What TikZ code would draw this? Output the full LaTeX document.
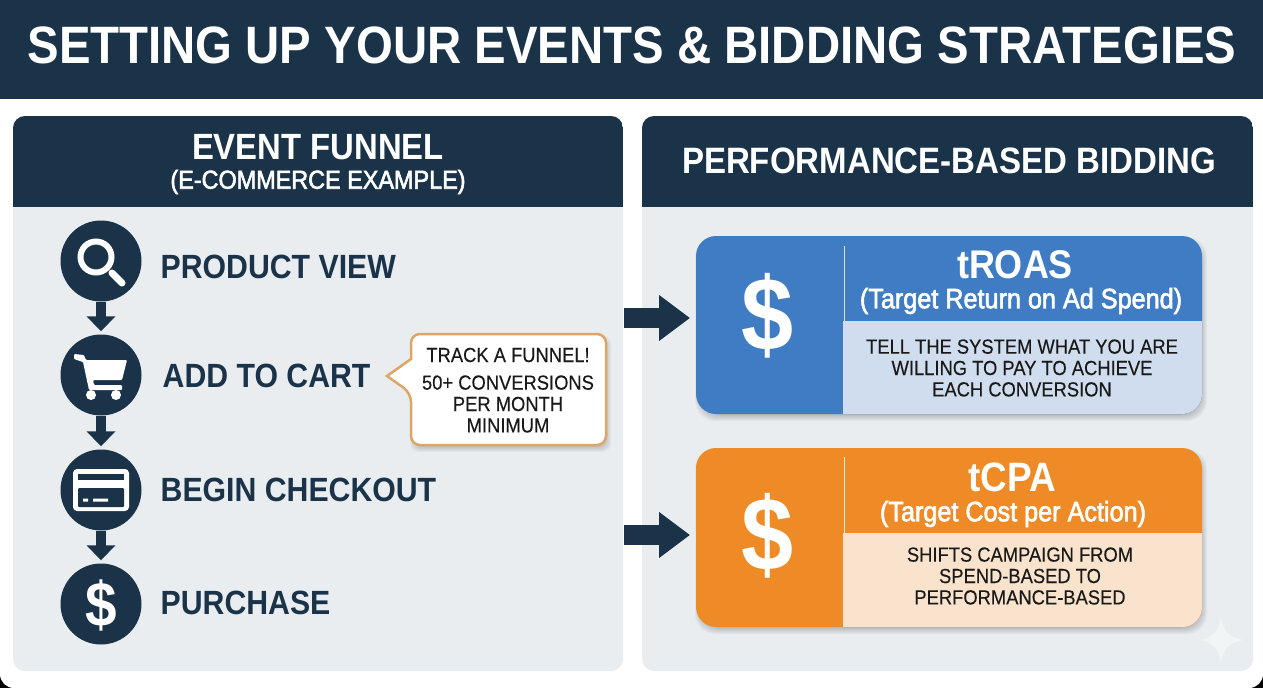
\documentclass[tikz,border=0pt]{standalone}
\usepackage{fontspec}
\setmainfont[FakeStretch=0.9]{Liberation Sans}
\newfontfamily\medfont[FakeStretch=0.9,FakeBold=2.2]{Liberation Sans}
\newfontfamily\bodyfont[FakeStretch=0.9,FakeBold=0.25]{Liberation Sans}
\usetikzlibrary{arrows.meta,positioning,calc}
\definecolor{navy}{HTML}{1B3349}
\definecolor{panelbg}{HTML}{E9EDF0}
\definecolor{bluecard}{HTML}{3F7CC4}
\definecolor{bluebody}{HTML}{D0DDEE}
\definecolor{orangecard}{HTML}{EE8B27}
\definecolor{orangebody}{HTML}{FAE3CC}
\definecolor{notetan}{HTML}{DDA566}
\newcommand{\fsz}[1]{\fontsize{#1}{#1}\selectfont}
\newcommand{\softshadow}[5]{\foreach \g in {0,...,6}{\fill[black,opacity=.03,rounded corners=#5pt] ({#1+2-3+\g},{#2+4-3+\g}) rectangle ({#3+2+3-\g},{#4+4+3-\g});}}
\tikzset{
  stepdot/.style={circle,fill=navy,minimum size=81pt,inner sep=0pt},
  steplabel/.style={anchor=west,inner sep=0pt,text=navy,font=\fsz{33.6}\bfseries},
  headtext/.style={text=white,inner sep=0pt,align=center},
  bodytext/.style={text=black!90,inner sep=0pt,align=center,font=\bodyfont\fsz{20.4}},
  flowarrow/.style={-{Triangle[length=15pt,width=28pt]},line width=10pt,draw=navy,shorten >=3pt},
  bigarrow/.style={-{Triangle[length=31pt,width=44pt]},line width=20pt,draw=navy},
}
\begin{document}
\begin{tikzpicture}[x=1pt,y=-1pt]
\useasboundingbox (0,0) rectangle (1263,688);
\clip (0,0) rectangle (1263,688);
\fill[black] (0,344) rectangle (1263,688);
\fill[white,rounded corners=14pt] (0,-20) rectangle (1263,688);
% title bar
\fill[navy] (0,0) rectangle (1263,99);
\node[headtext,font=\fsz{52.6}\bfseries] (title) at (632,45) {SETTING UP YOUR EVENTS \& BIDDING STRATEGIES};
% panels
\fill[panelbg,rounded corners=12pt] (13,116) rectangle (623,671);
\fill[panelbg,rounded corners=12pt] (642,116) rectangle (1253,671);
\begin{scope}
\clip[rounded corners=12pt] (13,116) rectangle (623,671);
\fill[navy] (13,116) rectangle (623,207);
\end{scope}
\begin{scope}
\clip[rounded corners=12pt] (642,116) rectangle (1253,671);
\fill[navy] (642,116) rectangle (1253,207);
\end{scope}
\node[headtext,font=\fsz{36.5}\bfseries] (funnelhead) at (318,147) {EVENT FUNNEL};
\node[headtext,font=\medfont\fsz{26}] (funnelsub) at (318,182) {(E-COMMERCE EXAMPLE)};
\node[headtext,font=\fsz{36.7}\bfseries] (bidhead) at (949,161) {PERFORMANCE-BASED BIDDING};
% funnel steps
\node[stepdot] (s1) at (101,261) {};
\node[stepdot] (s2) at (101,375) {};
\node[stepdot] (s3) at (101,490) {};
\node[stepdot] (s4) at (101,604) {};
\draw[flowarrow] (s1)--(s2); \draw[flowarrow] (s2)--(s3); \draw[flowarrow] (s3)--(s4);
\node[steplabel] (l1) at (160.5,267) {PRODUCT VIEW};
\node[steplabel] (l2) at (162.5,376) {ADD TO CART};
\node[steplabel] (l3) at (160.5,490) {BEGIN CHECKOUT};
\node[steplabel] (l4) at (160.5,603) {PURCHASE};
% icons
\draw[white,line width=6pt] (96,257) circle (15.5pt);
\draw[white,line width=7pt,line cap=round] (112,273)--(122,283);
\fill[white,rounded corners=1pt] (74,354)--(84,355)--(86,360)--(127,360)--(122,380)--(93,380)--(94,385)--(122,385)--(122,390)--(89,390)--(83,362)--(74,359)--cycle;
\fill[white] (91,395) circle (5pt) (116,395) circle (5pt);
\fill[white,rounded corners=4pt] (73,469) rectangle (129,511);
\fill[navy] (78,474) rectangle (124,480);
\fill[navy,rounded corners=1pt] (78,488) rectangle (124,507);
\fill[white] (83,498.5) rectangle (88,501.5) (93,498.5) rectangle (108,501.5);
\node[headtext,font=\fsz{63}\bfseries] (d4) at (101,605) {\$};
% note
\softshadow{411}{334}{606}{445}{9}
\draw[fill=white,draw=notetan,line width=2.5pt,rounded corners=9pt]
  (411,334)--(606,334)--(606,445)--(411,445)--(411,393)[sharp corners]--(387,376)--(411,359)[rounded corners=9pt]--cycle;
\node[bodytext] (n1) at (508,355) {TRACK A FUNNEL!};
\node[bodytext] (n2) at (508,404) {50+ CONVERSIONS\\[1pt]PER MONTH\\[1pt]MINIMUM};
% arrows to cards
\coordinate (a0) at (624,318); \coordinate (a1) at (690,318);
\coordinate (b0) at (624,535); \coordinate (b1) at (690,535);
\draw[bigarrow] (a0)--(a1); \draw[bigarrow] (b0)--(b1);
% tROAS card
\softshadow{696}{236}{1202}{414}{20}
\fill[bluecard,rounded corners=20pt] (696,236) rectangle (1202,414);
\begin{scope}
\clip[rounded corners=20pt] (696,236) rectangle (1202,414);
\fill[bluebody] (843,321) rectangle (1202,414);
\fill[white!80!bluecard] (843.5,246) rectangle (845,321);
\end{scope}
\node[headtext,font=\fsz{104}\bfseries] (d1) at (768,316) {\$};
\node[headtext,font=\fsz{40}\bfseries] (t1) at (1015,265) {tROAS};
\node[headtext,font=\medfont\fsz{28}] (t2) at (1021,301) {(Target Return on Ad Spend)};
\node[bodytext] (t3) at (1022,368) {TELL THE SYSTEM WHAT YOU ARE\\[1pt]WILLING TO PAY TO ACHIEVE\\[1pt]EACH CONVERSION};
% tCPA card
\softshadow{696}{448}{1202}{627}{20}
\fill[orangecard,rounded corners=20pt] (696,448) rectangle (1202,627);
\begin{scope}
\clip[rounded corners=20pt] (696,448) rectangle (1202,627);
\fill[orangebody] (843,533) rectangle (1202,627);
\fill[white!80!orangecard] (843.5,457) rectangle (845,533);
\end{scope}
\node[headtext,font=\fsz{104}\bfseries] (d2) at (768,536) {\$};
\node[headtext,font=\fsz{41}\bfseries] (c1) at (1012,477) {tCPA};
\node[headtext,font=\medfont\fsz{28}] (c2) at (1013,514) {(Target Cost per Action)};
\node[bodytext] (c3) at (1020,576) {SHIFTS CAMPAIGN FROM\\[1pt]SPEND-BASED TO\\[1pt]PERFORMANCE-BASED};
% sparkle
\fill[white,opacity=.45] (1221,618) .. controls (1224,632) and (1229,637) .. (1243,640) .. controls (1229,643) and (1224,648) .. (1221,663) .. controls (1218,648) and (1213,643) .. (1200,640) .. controls (1213,637) and (1218,632) .. cycle;
\end{tikzpicture}
\end{document}
